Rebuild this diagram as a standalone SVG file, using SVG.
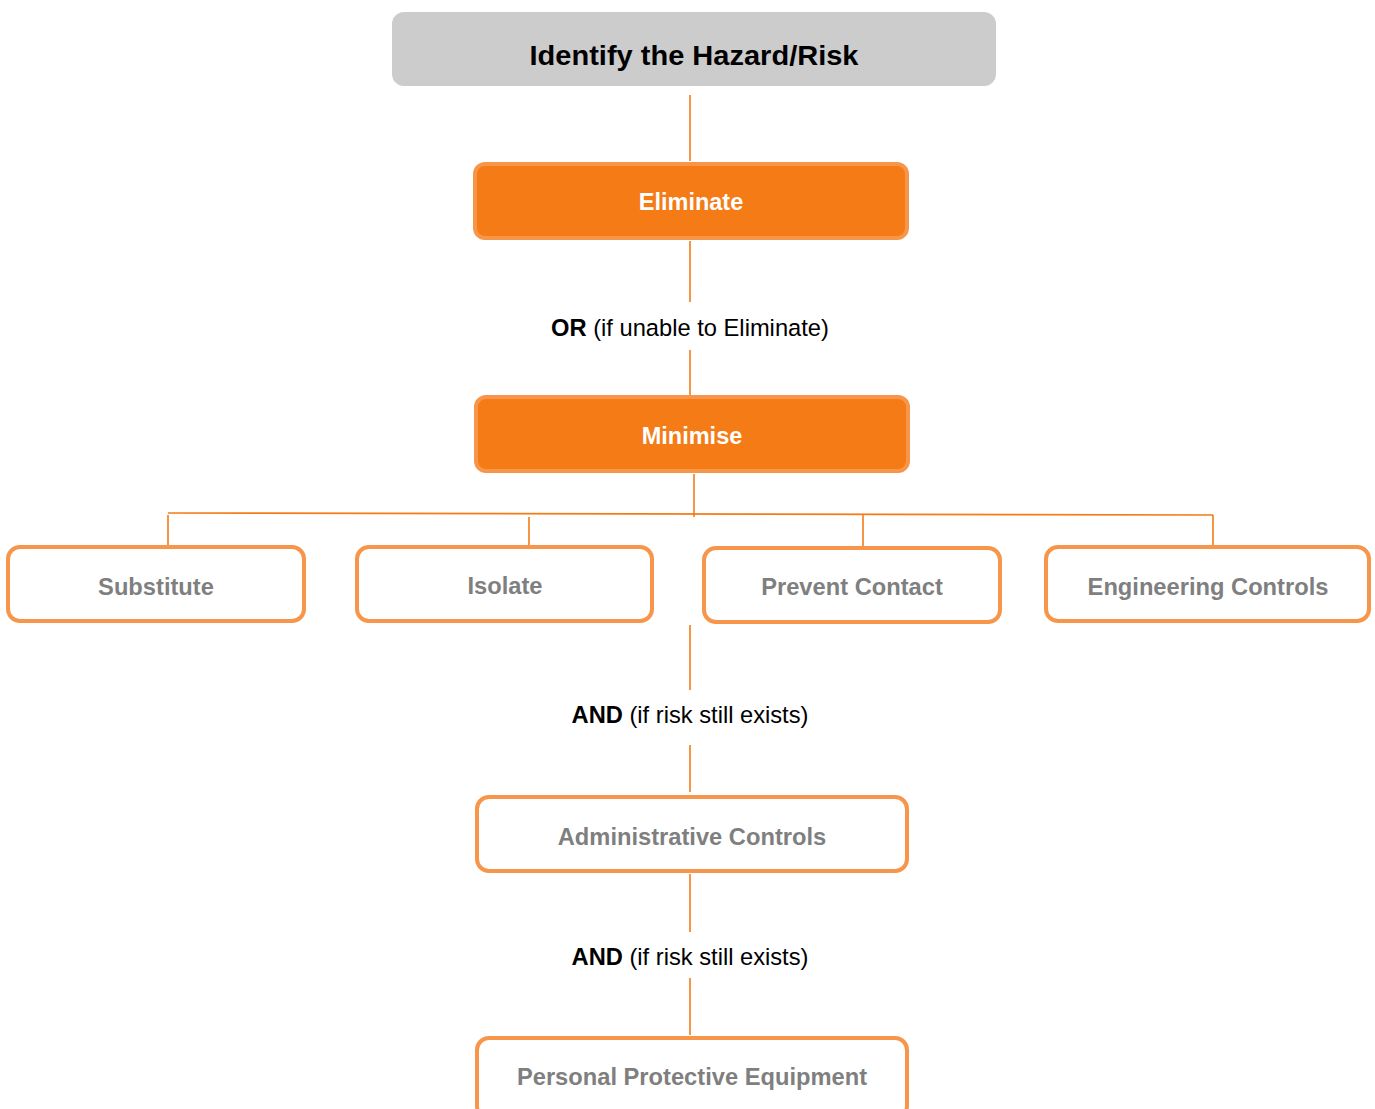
<svg xmlns="http://www.w3.org/2000/svg" width="1375" height="1109" viewBox="0 0 1375 1109">
<style>
.conn{stroke:#f47b16;stroke-width:1.6;fill:none}
.ob{fill:#ffffff;stroke:#f7964a;stroke-width:4}
.fb{fill:#f47b16;stroke:#f7964a;stroke-width:4}
.gt{font-family:"Liberation Sans",Arial,sans-serif;font-weight:bold;font-size:23.7px;fill:#7f7f7f;text-anchor:middle}
.wt{font-family:"Liberation Sans",Arial,sans-serif;font-weight:bold;font-size:23.5px;fill:#ffffff;text-anchor:middle}
.lab{font-family:"Liberation Sans",Arial,sans-serif;font-size:23.7px;fill:#000000;text-anchor:middle}
</style>
<rect width="1375" height="1109" fill="#ffffff"/>
<g id="connectors">
<line class="conn" x1="690" y1="95" x2="690" y2="161"/>
<line class="conn" x1="690" y1="241" x2="690" y2="302"/>
<line class="conn" x1="690" y1="350" x2="690" y2="395"/>
<line class="conn" x1="694" y1="474" x2="694" y2="517"/>
<line class="conn" x1="168" y1="513" x2="1213" y2="515"/>
<line class="conn" x1="168" y1="515" x2="168" y2="546"/>
<line class="conn" x1="529" y1="517" x2="529" y2="546"/>
<line class="conn" x1="863" y1="514" x2="863" y2="547"/>
<line class="conn" x1="1213" y1="515" x2="1213" y2="546"/>
<line class="conn" x1="690" y1="625" x2="690" y2="690"/>
<line class="conn" x1="690" y1="745" x2="690" y2="792"/>
<line class="conn" x1="690" y1="874" x2="690" y2="932"/>
<line class="conn" x1="690" y1="978" x2="690" y2="1035"/>
</g>
<g id="identify">
<rect x="392" y="12" width="604" height="74" rx="12" fill="#cccccc"/>
<text x="694" y="65" font-family="'Liberation Sans Narrow','Liberation Sans',Arial,sans-serif" font-weight="bold" font-size="28" text-anchor="middle" fill="#000" textLength="329" lengthAdjust="spacingAndGlyphs">Identify the Hazard/Risk</text>
</g>
<g id="eliminate">
<rect class="fb" x="475" y="164" width="432" height="74" rx="10"/>
<text class="wt" x="691" y="210">Eliminate</text>
</g>
<g id="or-label">
<text class="lab" x="690" y="336"><tspan font-weight="bold">OR</tspan> (if unable to Eliminate)</text>
</g>
<g id="minimise">
<rect class="fb" x="476" y="397" width="432" height="74" rx="10"/>
<text class="wt" x="692" y="444">Minimise</text>
</g>
<g id="substitute">
<rect class="ob" x="8" y="547" width="296" height="74" rx="12"/>
<text class="gt" x="156" y="595">Substitute</text>
</g>
<g id="isolate">
<rect class="ob" x="357" y="547" width="295" height="74" rx="12"/>
<text class="gt" x="505" y="594">Isolate</text>
</g>
<g id="prevent-contact">
<rect class="ob" x="704" y="548" width="296" height="74" rx="12"/>
<text class="gt" x="852" y="595">Prevent Contact</text>
</g>
<g id="engineering-controls">
<rect class="ob" x="1046" y="547" width="323" height="74" rx="12"/>
<text class="gt" x="1208" y="595">Engineering Controls</text>
</g>
<g id="and-label-1">
<text class="lab" x="690" y="723"><tspan font-weight="bold">AND</tspan> (if risk still exists)</text>
</g>
<g id="administrative-controls">
<rect class="ob" x="477" y="797" width="430" height="74" rx="12"/>
<text class="gt" x="692" y="845">Administrative Controls</text>
</g>
<g id="and-label-2">
<text class="lab" x="690" y="965"><tspan font-weight="bold">AND</tspan> (if risk still exists)</text>
</g>
<g id="ppe">
<rect class="ob" x="477" y="1038" width="430" height="80" rx="12"/>
<text class="gt" x="692" y="1085">Personal Protective Equipment</text>
</g>
</svg>
